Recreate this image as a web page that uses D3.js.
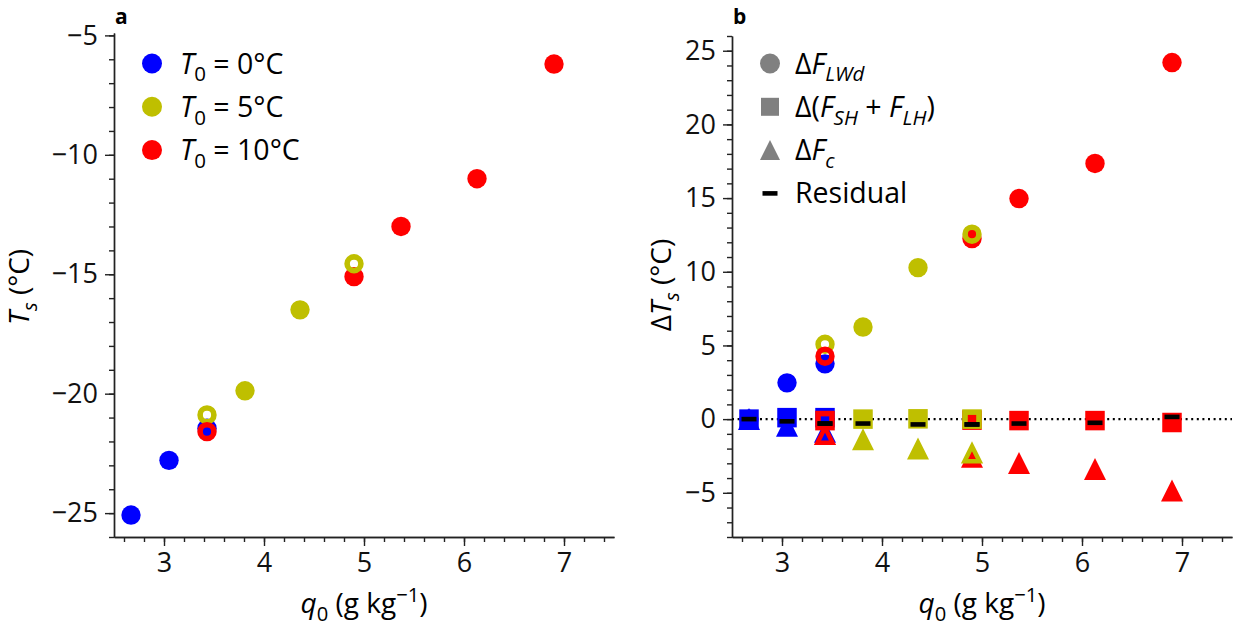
<!DOCTYPE html>
<html>
<head>
<meta charset="utf-8">
<script src="https://cdn.jsdelivr.net/npm/d3@7"></script>
<style>
  body { margin: 0; background: #fff; }
  svg { font-family: "Open Sans", "Noto Sans", sans-serif; }
  .axis path, .axis line { stroke: #222; stroke-width: 1.4; }
  .axis text { font-size: 27px; fill: #111; font-family: "Open Sans", sans-serif; }
</style>
</head>
<body>
<svg id="fig" width="1237" height="628"></svg>
<script>
// colours of the three runs (T0 = 0, 5, 10 C)
var runColors = ["#0000ff", "#bfbf00", "#ff0000"];
var runLabels = ["0", "5", "10"];

// panel a : surface temperature vs q0
var q0Blue  = [2.67, 3.05, 3.43];
var TsBlue  = [-25.08, -22.79, -21.45];
var openBlue = [0, 0, 0];
var q0Olive = [3.43, 3.81, 4.36, 4.90];
var TsOlive = [-20.89, -19.88, -16.49, -14.56];
var openOlive = [1, 0, 0, 1];
var q0Red   = [3.43, 4.90, 5.37, 6.13, 6.90];
var TsRed   = [-21.59, -15.10, -13.00, -11.00, -6.20];
var openRed = [1, 0, 0, 0, 0];

// panel b : decomposition of delta Ts
var dLWBlue   = [0, 2.46, 3.75];
var dTurbBlue = [0, 0.10, 0.10];
var dConvBlue = [0, -0.45, -0.85];
var resBlue   = [0, -0.15, -0.30];
var dLWOlive   = [5.08, 6.25, 10.28, 12.55];
var dTurbOlive = [null, 0.00, 0.02, 0.00];
var dConvOlive = [null, -1.37, -2.00, -2.35];
var resOlive   = [null, -0.30, -0.36, -0.36];
var dLWRed   = [4.27, 12.25, 14.97, 17.35, 24.20];
var dTurbRed = [-0.10, -0.07, -0.10, -0.10, -0.23];
var dConvRed = [-1.10, -2.55, -2.97, -3.38, -4.85];
var resRed   = [-0.30, -0.36, -0.30, -0.25, 0.15];

var xTicks = [3, 4, 5, 6, 7];
var xMinor = d3.range(2.6, 7.45, 0.2);
var yTicksA = [-25, -20, -15, -10, -5];
var yMinorA = d3.range(-26, -4, 1);
var yTicksB = [-5, 0, 5, 10, 15, 20, 25];
var yMinorB = d3.range(-8, 27, 1);

var svg = d3.select("#fig");

var xA = d3.scaleLinear().domain([2.5, 7.5]).range([114, 614]);
var yA = d3.scaleLinear().domain([-26, -4.9]).range([537, 33]);
var xB = d3.scaleLinear().domain([2.5, 7.5]).range([732, 1232]);
var yB = d3.scaleLinear().domain([-8, 26]).range([537, 36]);

// marker geometry
var R = 9.7, RO = 6.9, SW = 5.6;

function triPath(h) {
  return "M0," + (-h) + "L" + h + "," + h + "L" + (-h) + "," + h + "Z";
}

function drawMarker(g, shape, cx, cy, color, hollow) {
  var fill = hollow ? "none" : color,
      stroke = hollow ? color : "none";
  if (shape == "circle") {
    g.append("circle").attr("cx", cx).attr("cy", cy)
      .attr("r", hollow ? RO : R)
      .attr("fill", fill).attr("stroke", stroke).attr("stroke-width", SW);
  } else if (shape == "square") {
    var s = hollow ? 14 : 19.5;
    g.append("rect").attr("x", cx - s / 2).attr("y", cy - s / 2)
      .attr("width", s).attr("height", s)
      .attr("fill", fill).attr("stroke", stroke).attr("stroke-width", SW);
  } else if (shape == "triangle") {
    g.append("path").attr("d", triPath(hollow ? 7.5 : 11))
      .attr("transform", "translate(" + cx + "," + cy + ")")
      .attr("fill", fill).attr("stroke", stroke).attr("stroke-width", 4.5)
      .attr("stroke-linejoin", "miter");
  } else if (shape == "dash") {
    g.append("rect").attr("x", cx - 7.5).attr("y", cy - 2.3)
      .attr("width", 15).attr("height", 4.6).attr("fill", color);
  }
}

// text with italic / sub / sup parts
function rich(textSel, parts, fs) {
  var shift = 0;
  parts.forEach(function(p) {
    var t = textSel.append("tspan").text(p.t);
    var target = 0;
    if (p.sub) target = fs * 0.28;
    if (p.sup) target = -fs * 0.38;
    if (target != shift) t.attr("dy", target - shift);
    shift = target;
    if (p.sub || p.sup) t.attr("font-size", fs * 0.72);
    if (p.it) t.attr("font-style", "italic");
  });
}

function drawAxes(x, y, yTicks, yMinor) {
  svg.append("g").attr("class", "axis")
    .attr("transform", "translate(0," + y.range()[0] + ")")
    .call(d3.axisBottom(x).tickValues(xMinor).tickSize(5).tickFormat("").tickSizeOuter(0));
  svg.append("g").attr("class", "axis")
    .attr("transform", "translate(0," + y.range()[0] + ")")
    .call(d3.axisBottom(x).tickValues(xTicks).tickSize(9).tickPadding(7)
      .tickFormat(d3.format("d")).tickSizeOuter(0));
  svg.append("g").attr("class", "axis")
    .attr("transform", "translate(" + x.range()[0] + ",0)")
    .call(d3.axisLeft(y).tickValues(yMinor).tickSize(5).tickFormat("").tickSizeOuter(0));
  svg.append("g").attr("class", "axis")
    .attr("transform", "translate(" + x.range()[0] + ",0)")
    .call(d3.axisLeft(y).tickValues(yTicks).tickSize(9).tickPadding(7)
      .tickFormat(d3.format("d")).tickSizeOuter(0));
}

drawAxes(xA, yA, yTicksA, yMinorA);
drawAxes(xB, yB, yTicksB, yMinorB);

// panel letters
svg.append("text").attr("x", 115).attr("y", 24).attr("font-size", 21)
  .attr("font-weight", "bold").text("a");
svg.append("text").attr("x", 733).attr("y", 24).attr("font-size", 21)
  .attr("font-weight", "bold").text("b");

// axis titles
[364, 982].forEach(function(cx) {
  var t = svg.append("text").attr("x", cx).attr("y", 613)
    .attr("text-anchor", "middle").attr("font-size", 28);
  rich(t, [{t: "q", it: true}, {t: "0", sub: true}, {t: " (g kg"}, {t: "\u22121", sup: true}, {t: ")"}], 28);
});

var tA = svg.append("text").attr("text-anchor", "middle").attr("font-size", 28)
  .attr("transform", "translate(29,287) rotate(-90)");
rich(tA, [{t: "T", it: true}, {t: "s", it: true, sub: true}, {t: "  (\u00b0C)"}], 28);

var tB = svg.append("text").attr("text-anchor", "middle").attr("font-size", 28)
  .attr("transform", "translate(671,285) rotate(-90)");
rich(tB, [{t: "\u0394"}, {t: "T", it: true}, {t: "s", it: true, sub: true}, {t: "  (\u00b0C)"}], 28);

// zero line in panel b
svg.append("line")
  .attr("x1", xB.range()[0]).attr("x2", xB.range()[1])
  .attr("y1", yB(0)).attr("y2", yB(0))
  .attr("stroke", "#000").attr("stroke-width", 2.2)
  .attr("stroke-dasharray", "2,3.6");

// panel a points: filled first, then hollow
var gA = svg.append("g");
var runsA = [
  {q: q0Blue, v: TsBlue, open: openBlue, c: runColors[0]},
  {q: q0Olive, v: TsOlive, open: openOlive, c: runColors[1]},
  {q: q0Red, v: TsRed, open: openRed, c: runColors[2]}
];
[0, 1].forEach(function(pass) {
  runsA.forEach(function(r) {
    r.q.forEach(function(q, i) {
      if (r.open[i] != pass) return;
      drawMarker(gA, "circle", xA(q), yA(r.v[i]), r.c, pass == 1);
    });
  });
});

// panel b points
var gB = svg.append("g");
var runsB = [
  {q: q0Blue, open: openBlue, c: runColors[0], lw: dLWBlue, turb: dTurbBlue, conv: dConvBlue, res: resBlue},
  {q: q0Olive, open: openOlive, c: runColors[1], lw: dLWOlive, turb: dTurbOlive, conv: dConvOlive, res: resOlive},
  {q: q0Red, open: openRed, c: runColors[2], lw: dLWRed, turb: dTurbRed, conv: dConvRed, res: resRed}
];
var comps = [["lw", "circle"], ["turb", "square"], ["conv", "triangle"]];
[0, 1].forEach(function(pass) {
  runsB.forEach(function(r) {
    comps.forEach(function(c) {
      r.q.forEach(function(q, i) {
        var v = r[c[0]][i];
        if (v === null || r.open[i] != pass) return;
        drawMarker(gB, c[1], xB(q), yB(v), r.c, pass == 1);
      });
    });
  });
});
runsB.forEach(function(r) {
  r.q.forEach(function(q, i) {
    if (r.res[i] === null) return;
    drawMarker(gB, "dash", xB(q), yB(r.res[i]), "#000", false);
  });
});

// legend a
var legA = svg.append("g");
runColors.forEach(function(c, i) {
  var cy = 63.5 + i * 43.3;
  legA.append("circle").attr("cx", 152).attr("cy", cy).attr("r", 10).attr("fill", c);
  var t = legA.append("text").attr("x", 180).attr("y", cy + 10).attr("font-size", 28.5);
  rich(t, [{t: "T", it: true}, {t: "0", sub: true}, {t: " = " + runLabels[i] + "\u00b0C"}], 28.5);
});

// legend b
var legB = svg.append("g");
var grey = "#808080";
var legItems = [
  {shape: "circle", parts: [{t: "\u0394"}, {t: "F", it: true}, {t: "LWd", it: true, sub: true}]},
  {shape: "square", parts: [{t: "\u0394("}, {t: "F", it: true}, {t: "SH", it: true, sub: true}, {t: " + "}, {t: "F", it: true}, {t: "LH", it: true, sub: true}, {t: ")"}]},
  {shape: "triangle", parts: [{t: "\u0394"}, {t: "F", it: true}, {t: "c", it: true, sub: true}]},
  {shape: "dash", parts: [{t: "Residual"}]}
];
legItems.forEach(function(d, i) {
  var cy = 63.5 + i * 43.3;
  if (d.shape == "circle") legB.append("circle").attr("cx", 770).attr("cy", cy).attr("r", 10).attr("fill", grey);
  if (d.shape == "square") legB.append("rect").attr("x", 761).attr("y", cy - 9).attr("width", 18).attr("height", 18).attr("fill", grey);
  if (d.shape == "triangle") legB.append("path").attr("d", triPath(10)).attr("transform", "translate(770," + cy + ")").attr("fill", grey);
  if (d.shape == "dash") drawMarker(legB, "dash", 770, cy, "#000", false);
  var t = legB.append("text").attr("x", 795).attr("y", cy + 10).attr("font-size", 28.5);
  rich(t, d.parts, 28.5);
});
</script>
</body>
</html>
